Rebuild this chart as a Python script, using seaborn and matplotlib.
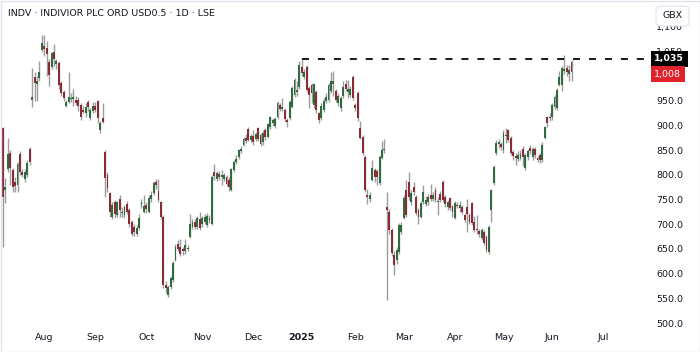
import matplotlib
matplotlib.use("Agg")
import matplotlib.pyplot as plt
import matplotlib.patches as mpatches
import matplotlib.transforms as mtransforms
import seaborn as sns
import pandas as pd
import numpy as np

sns.set_theme(style="white")
plt.rcParams['font.family'] = ['DejaVu Sans']

# daily candles, INDV (LSE), from 9 Jul 2024
start_date = "2024-07-09"
uk_holidays = ["2024-08-26", "2024-12-25", "2024-12-26", "2025-01-01",
               "2025-04-18", "2025-04-21", "2025-05-05", "2025-05-26"]

opens = [895, 770, 812, 844, 810, 785, 780, 842, 805, 792, 800, 852,
         952, 998, 985, 996, 1053, 1062, 1057, 1029, 1019, 1050, 1024, 1026,
         986, 968, 940, 948, 953, 953, 952, 952, 942, 932, 926, 948,
         915, 930, 940, 950, 891, 915, 846, 800, 763, 715, 745, 719,
         752, 722, 718, 742, 728, 705, 695, 680, 692, 740, 725, 740,
         725, 752, 763, 785, 768, 745, 715, 577, 557, 573, 587, 628,
         660, 655, 650, 645, 652, 675, 695, 705, 695, 710, 700, 705,
         698, 712, 700, 805, 792, 802, 796, 792, 795, 790, 770, 810,
         826, 836, 848, 861, 875, 893, 871, 878, 872, 895, 880, 866,
         891, 877, 897, 905, 900, 917, 942, 934, 932, 912, 915, 938,
         962, 968, 978, 1019, 998, 1019, 976, 982, 942, 968, 925, 915,
         932, 950, 952, 970, 985, 970, 945, 935, 960, 985, 968, 962,
         998, 942, 966, 895, 877, 836, 760, 752, 790, 810, 808, 783,
         834, 850,
         735, 725, 688, 638, 628, 644, 684, 713, 769, 786, 745, 775,
         755, 729, 715, 745, 742, 745, 760, 752, 770, 745, 762, 786,
         755, 735, 753, 737, 713, 740, 733, 735, 719, 735, 719, 743,
         705, 690, 686, 672, 684, 674, 644, 729, 783, 844, 862, 862,
         850, 878, 891, 875, 846, 838, 832, 834, 852, 814, 836, 854,
         836, 852, 834, 840, 830, 875, 917, 918, 917, 938, 936, 982,
         982, 1010, 1017, 1005, 1029]
highs = [897, 794, 875, 850, 815, 795, 826, 848, 812, 812, 830, 856,
         1017, 1009, 1000, 1030, 1083, 1083, 1071, 1035, 1050, 1065, 1035, 1030,
         990, 972, 952, 1009, 965, 975, 960, 958, 945, 940, 945, 952,
         935, 948, 948, 952, 910, 945, 850, 805, 765, 745, 750, 748,
         760, 735, 740, 748, 732, 708, 700, 698, 720, 752, 760, 745,
         760, 768, 787, 792, 792, 748, 718, 585, 578, 596, 625, 660,
         668, 670, 655, 670, 658, 720, 710, 710, 716, 725, 716, 720,
         722, 718, 800, 822, 808, 808, 810, 804, 800, 795, 815, 830,
         840, 853, 858, 876, 882, 897, 882, 892, 886, 898, 884, 892,
         895, 906, 920, 916, 918, 950, 946, 956, 936, 916, 952, 980,
         996, 990, 1030, 1035, 1015, 1022, 980, 986, 985, 972, 928, 945,
         955, 966, 986, 1009, 1011, 975, 965, 960, 990, 992, 992, 980,
         1002, 946, 970, 910, 880, 840, 772, 765, 830, 815, 812, 840,
         868, 872,
         765, 730, 692, 645, 655, 702, 705, 760, 790, 806, 770, 785,
         760, 732, 748, 780, 758, 762, 782, 765, 775, 755, 768, 790,
         760, 750, 756, 740, 748, 745, 748, 740, 722, 752, 722, 746,
         716, 718, 690, 692, 688, 678, 698, 772, 820, 870, 872, 866,
         891, 895, 894, 878, 850, 845, 848, 850, 858, 845, 852, 860,
         856, 856, 838, 845, 866, 900, 920, 925, 946, 962, 976, 1010,
         1020, 1043, 1022, 1022, 1032]
lows = [654, 743, 805, 780, 765, 765, 766, 800, 795, 785, 795, 820,
        938, 950, 950, 990, 1050, 1040, 1000, 980, 1015, 1020, 1015, 975,
        960, 950, 938, 945, 948, 940, 942, 930, 912, 925, 918, 930,
        912, 925, 928, 905, 885, 905, 755, 765, 715, 710, 712, 715,
        715, 715, 712, 720, 695, 676, 676, 676, 688, 732, 722, 722,
        722, 745, 760, 772, 745, 710, 570, 560, 552, 568, 584, 625,
        645, 635, 638, 640, 645, 672, 690, 690, 690, 688, 695, 700,
        694, 702, 698, 790, 788, 790, 780, 788, 778, 768, 768, 806,
        822, 832, 844, 858, 864, 868, 866, 860, 868, 868, 858, 860,
        870, 874, 894, 900, 896, 914, 930, 930, 908, 898, 912, 935,
        958, 960, 975, 1000, 995, 968, 935, 945, 935, 925, 905, 912,
        928, 945, 948, 965, 960, 948, 940, 930, 955, 970, 955, 958,
        952, 930, 910, 872, 840, 765, 742, 745, 788, 785, 780, 780,
        832, 845,
        547, 680, 636, 597, 620, 640, 680, 710, 715, 750, 740, 760,
        718, 700, 712, 742, 738, 740, 748, 748, 745, 718, 745, 745,
        735, 728, 728, 715, 710, 732, 725, 720, 705, 685, 700, 698,
        684, 680, 675, 668, 658, 643, 640, 705, 780, 840, 855, 850,
        845, 865, 866, 840, 830, 820, 828, 830, 818, 810, 830, 842,
        830, 835, 826, 825, 826, 872, 898, 910, 912, 934, 932, 980,
        970, 1005, 1000, 990, 990]
closes = [755, 775, 842, 815, 775, 778, 822, 806, 800, 805, 824, 826,
          958, 986, 990, 1009, 1067, 1055, 1045, 1002, 1047, 1034, 1030, 982,
          966, 956, 948, 958, 956, 957, 946, 940, 918, 928, 938, 938,
          932, 940, 932, 915, 905, 907, 794, 773, 725, 740, 720, 745,
          728, 725, 735, 724, 700, 680, 684, 692, 713, 745, 738, 730,
          753, 760, 783, 780, 750, 715, 577, 571, 573, 591, 622, 654,
          650, 640, 645, 658, 650, 700, 705, 695, 712, 693, 712, 714,
          716, 708, 795, 798, 804, 795, 800, 800, 782, 775, 812, 826,
          832, 850, 853, 873, 868, 871, 878, 866, 882, 872, 862, 885,
          876, 903, 917, 912, 913, 946, 934, 938, 913, 908, 948, 976,
          992, 972, 1023, 1006, 1009, 972, 962, 966, 984, 932, 911, 940,
          950, 958, 982, 990, 990, 952, 960, 955, 978, 975, 975, 975,
          956, 936, 915, 875, 844, 769, 755, 760, 814, 795, 796, 836,
          850, 853,
          729, 688, 642, 618, 648, 699, 699, 753, 719, 755, 763, 765,
          723, 715, 743, 765, 750, 755, 752, 760, 750, 748, 750, 749,
          742, 745, 733, 725, 743, 738, 740, 725, 709, 720, 705, 703,
          688, 688, 680, 688, 662, 648, 695, 769, 816, 865, 866, 856,
          885, 880, 871, 844, 838, 835, 840, 842, 836, 840, 848, 848,
          852, 840, 830, 830, 861, 897, 905, 915, 942, 958, 972, 998,
          1017, 1014, 1009, 1012, 1008]

month_labels = ["Aug", "Sep", "Oct", "Nov", "Dec", "2025",
                "Feb", "Mar", "Apr", "May", "Jun", "Jul"]
month_starts = ["2024-08", "2024-09", "2024-10", "2024-11", "2024-12", "2025-01",
                "2025-02", "2025-03", "2025-04", "2025-05", "2025-06", "2025-07"]
price_ticks = [500, 550, 600, 650, 700, 750, 800, 850, 900, 950, 1000, 1050, 1100]
level_price = 1035
level_date = "2025-01-02"

# trading calendar (runs past the last candle so the axis can show July)
cal = pd.bdate_range(start_date, periods=len(opens) + 60, freq="C", holidays=uk_holidays)
df = pd.DataFrame({"date": cal[:len(opens)], "open": opens, "high": highs,
                   "low": lows, "close": closes})
df["x"] = np.arange(len(df))
df["up"] = df["close"] >= df["open"]

green, red, wick = "#2f6b3d", "#8a2c36", "#9c9c9c"

fig = plt.figure(figsize=(7, 3.52), dpi=100)
ax = fig.add_axes([2 / 700, 24 / 352, 648 / 700, 326 / 352])

ax.vlines(df["x"], df["low"], df["high"], colors=wick, linewidth=1.0, zorder=2)
body_bottom = df[["open", "close"]].min(axis=1)
body_height = (df["close"] - df["open"]).abs().clip(lower=2)
ax.bar(df["x"], body_height, bottom=body_bottom, width=0.78,
       color=np.where(df["up"], green, red), linewidth=0, zorder=3)

x_right = 266.3
level_x = int(np.where(cal == pd.Timestamp(level_date))[0][0])
ax.hlines(level_price, level_x, x_right, colors="#131722", linewidth=1.4,
          linestyles=(0, (3.6, 4.6)), zorder=4)

ax.set_xlim(-0.4, x_right)
ax.set_ylim(489.9, 1150.3)

tick_pos = [int(np.argmax(cal.strftime("%Y-%m") == m)) for m in month_starts]
ax.set_xticks(tick_pos)
ax.set_xticklabels(month_labels)
for lbl in ax.get_xticklabels():
    if lbl.get_text() == "2025":
        lbl.set_fontweight("bold")
ax.tick_params(axis="x", length=0, pad=3.5, labelsize=6.8, colors="#131722")

ax.yaxis.tick_right()
ax.set_yticks(price_ticks)
ax.set_yticklabels([f"{v:,.0f}" if v >= 1000 else f"{v:.1f}" for v in price_ticks])
ax.tick_params(axis="y", length=0, pad=4.5, labelsize=6.8, colors="#131722")

for s in ax.spines.values():
    s.set_visible(False)
ax.grid(False)

# price labels on the right scale (they sit over the 1,050 / 1,000 ticks as in TradingView)
trans = mtransforms.blended_transform_factory(ax.transAxes, ax.transData)
ax.annotate(f"{level_price:,}", xy=(1.0, level_price), xycoords=trans,
            xytext=(3, 0), textcoords="offset points", ha="left", va="center",
            fontsize=6.8, fontweight="bold", color="white", zorder=10,
            annotation_clip=False,
            bbox=dict(boxstyle="square,pad=0.38", fc="#000000", ec="none"))
ax.annotate(f"{closes[-1]:,}", xy=(1.0, closes[-1]), xycoords=trans,
            xytext=(3, -1.5), textcoords="offset points", ha="left", va="center",
            fontsize=6.8, color="white", zorder=10, annotation_clip=False,
            bbox=dict(boxstyle="square,pad=0.38", fc="#e0232b", ec="none"))

# currency box and title
fig.patches.append(mpatches.FancyBboxPatch((656 / 700, 326 / 352), 33 / 700, 20 / 352,
                                           boxstyle="round,pad=0,rounding_size=0.008",
                                           transform=fig.transFigure, fc="white",
                                           ec="#e0e3eb", lw=0.8, zorder=5))
fig.text(672.5 / 700, 336 / 352, "GBX", ha="center", va="center",
         fontsize=6.8, color="#131722", zorder=6)
fig.text(8 / 700, 1 - 14 / 352, "INDV · INDIVIOR PLC ORD USD0.5 · 1D · LSE",
         ha="left", va="center", fontsize=6.8, color="#131722")
fig.patches.append(mpatches.Rectangle((0.5 / 700, 0.5 / 352), 699 / 700, 351 / 352,
                                      transform=fig.transFigure, fill=False,
                                      ec="#e0e3eb", lw=1.0))

fig.savefig("out.png", dpi=100, facecolor="white")
